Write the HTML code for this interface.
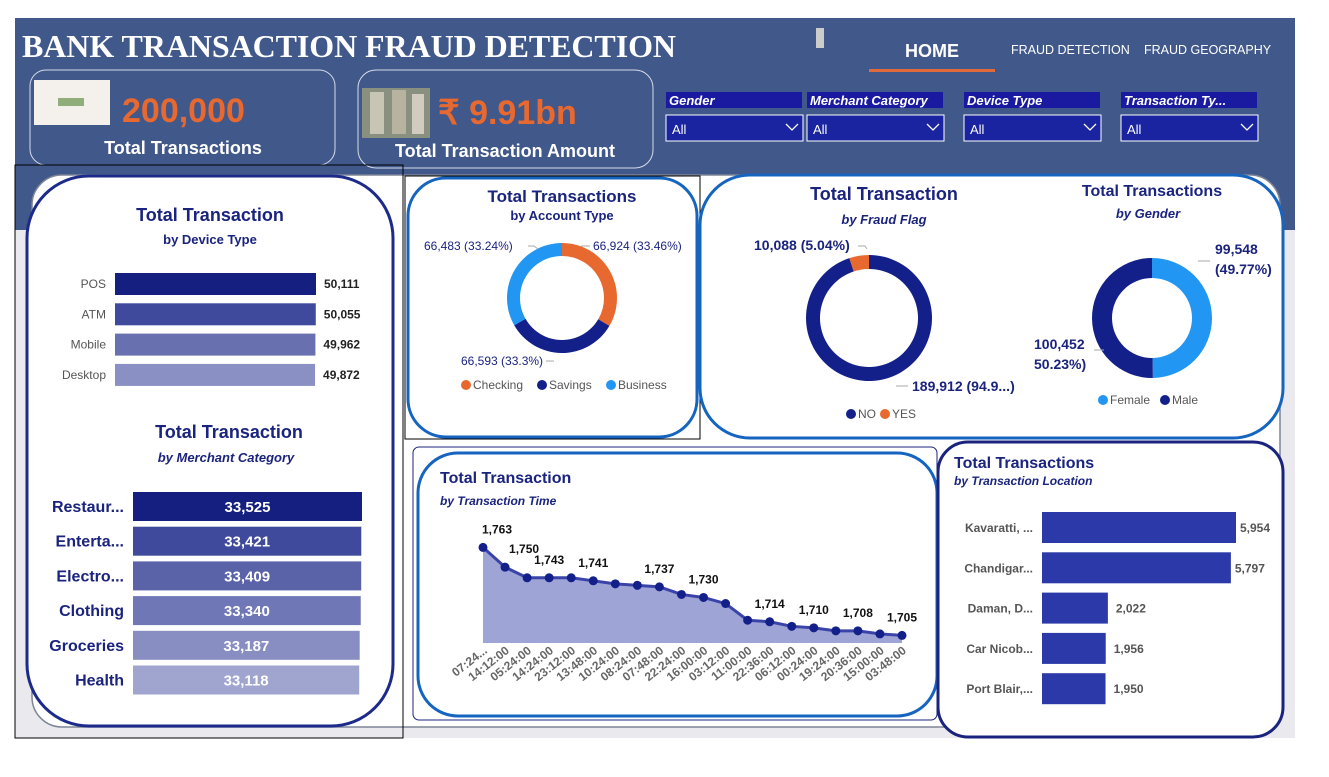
<!DOCTYPE html>
<html><head><meta charset="utf-8"><style>
body{margin:0;width:1329px;height:777px;background:#fff;overflow:hidden;font-family:"Liberation Sans",sans-serif}
svg{display:block}
</style></head><body>
<svg id="s" width="1329" height="777" viewBox="0 0 1329 777" xmlns="http://www.w3.org/2000/svg" font-family="Liberation Sans, sans-serif">
<rect x="15" y="18" width="1280" height="720" fill="#e9e9ee"/>
<rect x="15" y="18" width="1280" height="212" fill="#41588a"/>
<text x="22" y="57" font-family="Liberation Serif, serif" font-weight="bold" font-size="32" textLength="654" fill="#fff">BANK TRANSACTION FRAUD DETECTION</text>
<rect x="816" y="28" width="8" height="20" fill="#ccc"/>
<text x="932" y="57" text-anchor="middle" font-weight="bold" font-size="18" fill="#fff">HOME</text>
<rect x="869" y="69" width="126" height="3" fill="#e06a3a"/>
<text x="1011" y="54" font-size="12.5" fill="#fff">FRAUD DETECTION</text>
<text x="1144" y="54" font-size="12.5" fill="#fff">FRAUD GEOGRAPHY</text>

<g>
<rect x="30" y="70" width="305" height="95" rx="16" fill="none" stroke="#d8dcea" stroke-width="1"/>
<rect x="34" y="80" width="76" height="45" fill="#f4f1ec"/>
<rect x="58" y="98" width="26" height="8" fill="#8fae7a"/>
<text x="122" y="122" font-weight="bold" font-size="34" fill="#e8692f">200,000</text>
<text x="183" y="154" text-anchor="middle" font-weight="bold" font-size="18" fill="#fff">Total Transactions</text>
</g>
<g>
<rect x="358" y="70" width="295" height="98" rx="18" fill="none" stroke="#d8dcea" stroke-width="1"/>
<rect x="362" y="88" width="68" height="50" fill="#8a9080"/>
<rect x="370" y="92" width="14" height="42" fill="#c9c5b5"/><rect x="392" y="90" width="14" height="44" fill="#b8b3a0"/><rect x="412" y="94" width="12" height="40" fill="#d2ccc0"/>
<text x="438" y="124" font-weight="bold" font-size="34" fill="#e8692f">₹ 9.91bn</text>
<text x="505" y="157" text-anchor="middle" font-weight="bold" font-size="18" fill="#fff">Total Transaction Amount</text>
</g>
<g id="slicers"></g>

<rect x="32" y="175" width="1248" height="552" rx="30" fill="#fff" stroke="#7d8596" stroke-width="1.5"/>
<rect x="15" y="165" width="388" height="573" fill="none" stroke="#000" stroke-width="1"/>
<rect x="27" y="176" width="366" height="550" rx="62" fill="#fff" stroke="#1c2a8a" stroke-width="3"/>
<text x="210" y="221" text-anchor="middle" font-weight="bold" font-size="18" fill="#1a237e">Total Transaction</text>
<text x="210" y="244" text-anchor="middle" font-weight="bold" font-size="13" fill="#1a237e">by Device Type</text>
<g id="device"></g>
<text x="229" y="438" text-anchor="middle" font-weight="bold" font-size="18" fill="#1a237e">Total Transaction</text>
<text x="226" y="462" text-anchor="middle" font-weight="bold" font-style="italic" font-size="13" fill="#1a237e">by Merchant Category</text>
<g id="merchant"></g>

<rect x="405" y="176" width="295" height="263" fill="none" stroke="#000" stroke-width="1"/>
<rect x="408" y="178" width="289" height="259" rx="38" fill="#fff" stroke="#1565c0" stroke-width="3"/>
<text x="562" y="202" text-anchor="middle" font-weight="bold" font-size="17" fill="#1a237e">Total Transactions</text>
<text x="562" y="220" text-anchor="middle" font-weight="bold" font-size="13" fill="#1a237e">by Account Type</text>
<g id="account"></g>

<rect x="700" y="175" width="583" height="263" rx="50" fill="#fff" stroke="#1565c0" stroke-width="3"/>
<text x="884" y="200" text-anchor="middle" font-weight="bold" font-size="18" fill="#1a237e">Total Transaction</text>
<text x="884" y="224" text-anchor="middle" font-weight="bold" font-style="italic" font-size="13" fill="#1a237e">by Fraud Flag</text>
<text x="1152" y="196" text-anchor="middle" font-weight="bold" font-size="16" fill="#1a237e">Total Transactions</text>
<text x="1148" y="218" text-anchor="middle" font-weight="bold" font-style="italic" font-size="13" fill="#1a237e">by Gender</text>
<g id="fraud"></g><g id="gender"></g>

<rect x="413" y="447" width="524" height="273" rx="6" fill="#fff" stroke="#1a237e" stroke-width="1"/>
<rect x="418" y="453" width="519" height="263" rx="40" fill="#fff" stroke="#1565c0" stroke-width="3"/>
<text x="440" y="483" font-weight="bold" font-size="16" fill="#1a237e">Total Transaction</text>
<text x="440" y="505" font-weight="bold" font-style="italic" font-size="12" fill="#1a237e">by Transaction Time</text>
<g id="time"></g>

<rect x="938" y="442" width="345" height="295" rx="30" fill="#fff" stroke="#1a237e" stroke-width="3"/>
<text x="954" y="468" font-weight="bold" font-size="16" fill="#1a237e">Total Transactions</text>
<text x="954" y="485" font-weight="bold" font-style="italic" font-size="12" fill="#1a237e">by Transaction Location</text>
<g id="location"></g>
</svg>
<script>
const NS="http://www.w3.org/2000/svg";
function mk(p,tag,a,txt){const e=document.createElementNS(NS,tag);for(const k in a)e.setAttribute(k,a[k]);if(txt!==undefined)e.textContent=txt;p.appendChild(e);return e;}
const fmt=v=>v.toLocaleString('en-US');

// slicers
const slicerNames=["Gender","Merchant Category","Device Type","Transaction Ty..."];
const slicerX=[666,807,964,1121];
const sg=document.getElementById('slicers');
slicerNames.forEach((n,i)=>{
 const x=slicerX[i];
 const h=mk(sg,'rect',{x:x,y:92,width:136,height:16,fill:'#1a1aa0'});
 
 
 const t=mk(sg,'text',{x:x+3,y:105,'font-size':13,'font-weight':'bold','font-style':'italic',fill:'#fff'},n);
 
 
 const d=mk(sg,'rect',{x:x,y:115,width:137,height:26,fill:'#1a23a0',stroke:'#fff','stroke-width':1});
 
 
 mk(sg,'text',{x:x+6,y:134,'font-size':13,fill:'#fff'},'All');
 mk(sg,'path',{d:`M${x+120} ${124} l6 6 l6 -6`,fill:'none',stroke:'#fff','stroke-width':1.3});
});

// device bars
const deviceCats=["POS","ATM","Mobile","Desktop"];
const deviceVals=[50111,50055,49962,49872];
const deviceColors=["#141f80","#3f4a9c","#6870b0","#8b90c4"];
const dg=document.getElementById('device');
const dX=v=>115+v/50111*201;
deviceCats.forEach((c,i)=>{
 const y=273+i*30.3;
 const r=mk(dg,'rect',{x:115,y:y,width:dX(deviceVals[i])-115,height:22,fill:deviceColors[i]});
 
 
 mk(dg,'text',{x:106,y:y+15,'text-anchor':'end','font-size':12,fill:'#555'},c);
 mk(dg,'text',{x:dX(deviceVals[i])+8,y:y+15,'font-size':12,'font-weight':'bold',fill:'#222'},fmt(deviceVals[i]));
});

// merchant bars
const merchCats=["Restaur...","Enterta...","Electro...","Clothing","Groceries","Health"];
const merchVals=[33525,33421,33409,33340,33187,33118];
const merchColors=["#141f80","#3f4a9c","#5a62a8","#7077b6","#888ec2","#a0a5cf"];
const mg=document.getElementById('merchant');
const mX=v=>133+v/33525*229;
merchCats.forEach((c,i)=>{
 const y=492+i*34.7;
 const w=mX(merchVals[i])-133;
 const r=mk(mg,'rect',{x:133,y:y,width:w,height:29,fill:merchColors[i]});
 
 
 mk(mg,'text',{x:124,y:y+20,'text-anchor':'end','font-size':16,'font-weight':'bold',fill:'#1a237e'},c);
 mk(mg,'text',{x:133+w/2,y:y+20,'text-anchor':'middle','font-size':15,'font-weight':'bold',fill:'#fff'},fmt(merchVals[i]));
});

// donut helper
function donut(g,cx,cy,R,r,vals,cols,name){
 const tot=vals.reduce((a,b)=>a+b,0);let a0=0;
 vals.forEach((v,i)=>{
  const a1=a0+v/tot*2*Math.PI;
  const p=(a,rad)=>[cx+rad*Math.sin(a),cy-rad*Math.cos(a)];
  const [x0,y0]=p(a0,R),[x1,y1]=p(a1,R),[x2,y2]=p(a1,r),[x3,y3]=p(a0,r);
  const lg=(a1-a0)>Math.PI?1:0;
  const s=mk(g,'path',{d:`M${x0} ${y0}A${R} ${R} 0 ${lg} 1 ${x1} ${y1}L${x2} ${y2}A${r} ${r} 0 ${lg} 0 ${x3} ${y3}Z`,fill:cols[i]});
  
  
  a0=a1;
 });
}
function legend(g,items,cols,x,y){
 let cx=x;
 items.forEach((t,i)=>{
  mk(g,'circle',{cx:cx+5,cy:y-4,r:5,fill:cols[i]});
  const tt=mk(g,'text',{x:cx+12,y:y,'font-size':12,fill:'#555'},t);
  
  
  cx+=20+t.length*7;
 });
}
// account
const accountCats=["Checking","Savings","Business"];
const accountVals=[66924,66593,66483];
const accountCols=["#e8692f","#14208a","#2196f3"];
const ag=document.getElementById('account');
donut(ag,562,298,55,42,accountVals,accountCols,'account');
const atot=accountVals.reduce((a,b)=>a+b,0);
const pct=v=>(v/atot*100).toFixed(2).replace(/0$/,'');
mk(ag,'text',{x:593,y:250,'font-size':12,fill:'#1a237e'},fmt(accountVals[0])+' ('+pct(accountVals[0])+'%)');
mk(ag,'text',{x:424,y:250,'font-size':12,fill:'#1a237e'},fmt(accountVals[2])+' ('+pct(accountVals[2])+'%)');
mk(ag,'text',{x:461,y:365,'font-size':12,fill:'#1a237e'},fmt(accountVals[1])+' ('+pct(accountVals[1])+'%)');
mk(ag,'path',{d:'M581 246h9M528 246h6 l4 3M546 361h8',stroke:'#aaa',fill:'none'});
legend(ag,accountCats,accountCols,461,389);
// fraud
const fraudCats=["NO","YES"];
const fraudVals=[189912,10088];
const fraudCols=["#14208a","#e8692f"];
const fg=document.getElementById('fraud');
donut(fg,869,318,63,49,fraudVals,fraudCols,'fraud');
mk(fg,'text',{x:754,y:250,'font-size':14,'font-weight':'bold',fill:'#1a237e'},'10,088 (5.04%)');
mk(fg,'text',{x:912,y:391,'font-size':14,'font-weight':'bold',fill:'#1a237e'},'189,912 (94.9...)');
mk(fg,'path',{d:'M858 246h7 l2 3M896 386h12',stroke:'#aaa',fill:'none'});
legend(fg,fraudCats,fraudCols,846,418);
// gender
const genderCats=["Female","Male"];
const genderVals=[99548,100452];
const genderCols=["#2196f3","#14208a"];
const gg=document.getElementById('gender');
donut(gg,1152,318,60,40,genderVals,genderCols,'gender');
mk(gg,'text',{x:1215,y:254,'font-size':14,'font-weight':'bold',fill:'#1a237e'},'99,548');
mk(gg,'text',{x:1215,y:274,'font-size':14,'font-weight':'bold',fill:'#1a237e'},'(49.77%)');
mk(gg,'text',{x:1034,y:349,'font-size':14,'font-weight':'bold',fill:'#1a237e'},'100,452');
mk(gg,'text',{x:1034,y:369,'font-size':14,'font-weight':'bold',fill:'#1a237e'},'50.23%)');
mk(gg,'path',{d:'M1198 261h12M1094 350h10',stroke:'#aaa',fill:'none'});
legend(gg,genderCats,genderCols,1098,404);

// time area
const timeCats=["07:24...","14:12:00","05:24:00","14:24:00","23:12:00","13:48:00","10:24:00","08:24:00","07:48:00","22:24:00","16:00:00","03:12:00","11:00:00","22:36:00","06:12:00","00:24:00","19:24:00","20:36:00","15:00:00","03:48:00"];
const timeVals=[1763,1750,1743,1743,1743,1741,1739,1738,1737,1732,1730,1726,1715,1714,1711,1710,1708,1708,1706,1705];
const timeLabelIdx=[0,1,3,5,8,10,13,15,17,19];
const yMin=1700;
const tx=i=>483+i*(902-483)/(timeCats.length-1);
const ty=v=>643-(v-yMin)*1.517;
const tg=document.getElementById('time');
let pts=timeVals.map((v,i)=>tx(i)+','+ty(v)).join(' L');
const area=mk(tg,'path',{d:`M${tx(0)},643 L${pts} L${tx(timeVals.length-1)},643Z`,fill:'#9fa4d6'});


const line=mk(tg,'path',{d:'M'+pts,fill:'none',stroke:'#3a44a8','stroke-width':3});


timeVals.forEach((v,i)=>{
 const c=mk(tg,'circle',{cx:tx(i),cy:ty(v),r:4.5,fill:'#14208a'});
 
 
 const lt=mk(tg,'text',{transform:`translate(${tx(i)+5},${652}) rotate(-38)`,'text-anchor':'end','font-size':12,'font-weight':'bold',fill:'#666'},timeCats[i]);
 
 
});
timeLabelIdx.forEach(i=>{
 const v=timeVals[i];
 let x=tx(i),y=ty(v)-14,anc='middle';
 if(i===0){x+=14;}
 if(i===1){x+=4;anc='start';}
 mk(tg,'text',{x:x,y:y,'text-anchor':anc,'font-size':12,'font-weight':'bold',fill:'#111'},fmt(v));
});

// location bars
const locCats=["Kavaratti, ...","Chandigar...","Daman, D...","Car Nicob...","Port Blair,..."];
const locVals=[5954,5797,2022,1956,1950];
const lg2=document.getElementById('location');
const lX=v=>v/5954*194;
locCats.forEach((c,i)=>{
 const y=512+i*40.3;
 const r=mk(lg2,'rect',{x:1042,y:y,width:lX(locVals[i]),height:31,fill:'#2b3aa8'});
 
 
 mk(lg2,'text',{x:1033,y:y+20,'text-anchor':'end','font-size':12,'font-weight':'bold',fill:'#555'},c);
 const w=lX(locVals[i]);
 mk(lg2,'text',{x:1042+w+(w>150?4:8),y:y+20,'font-size':12,'font-weight':'bold',fill:'#555'},fmt(locVals[i]));
});
</script>
</body></html>
